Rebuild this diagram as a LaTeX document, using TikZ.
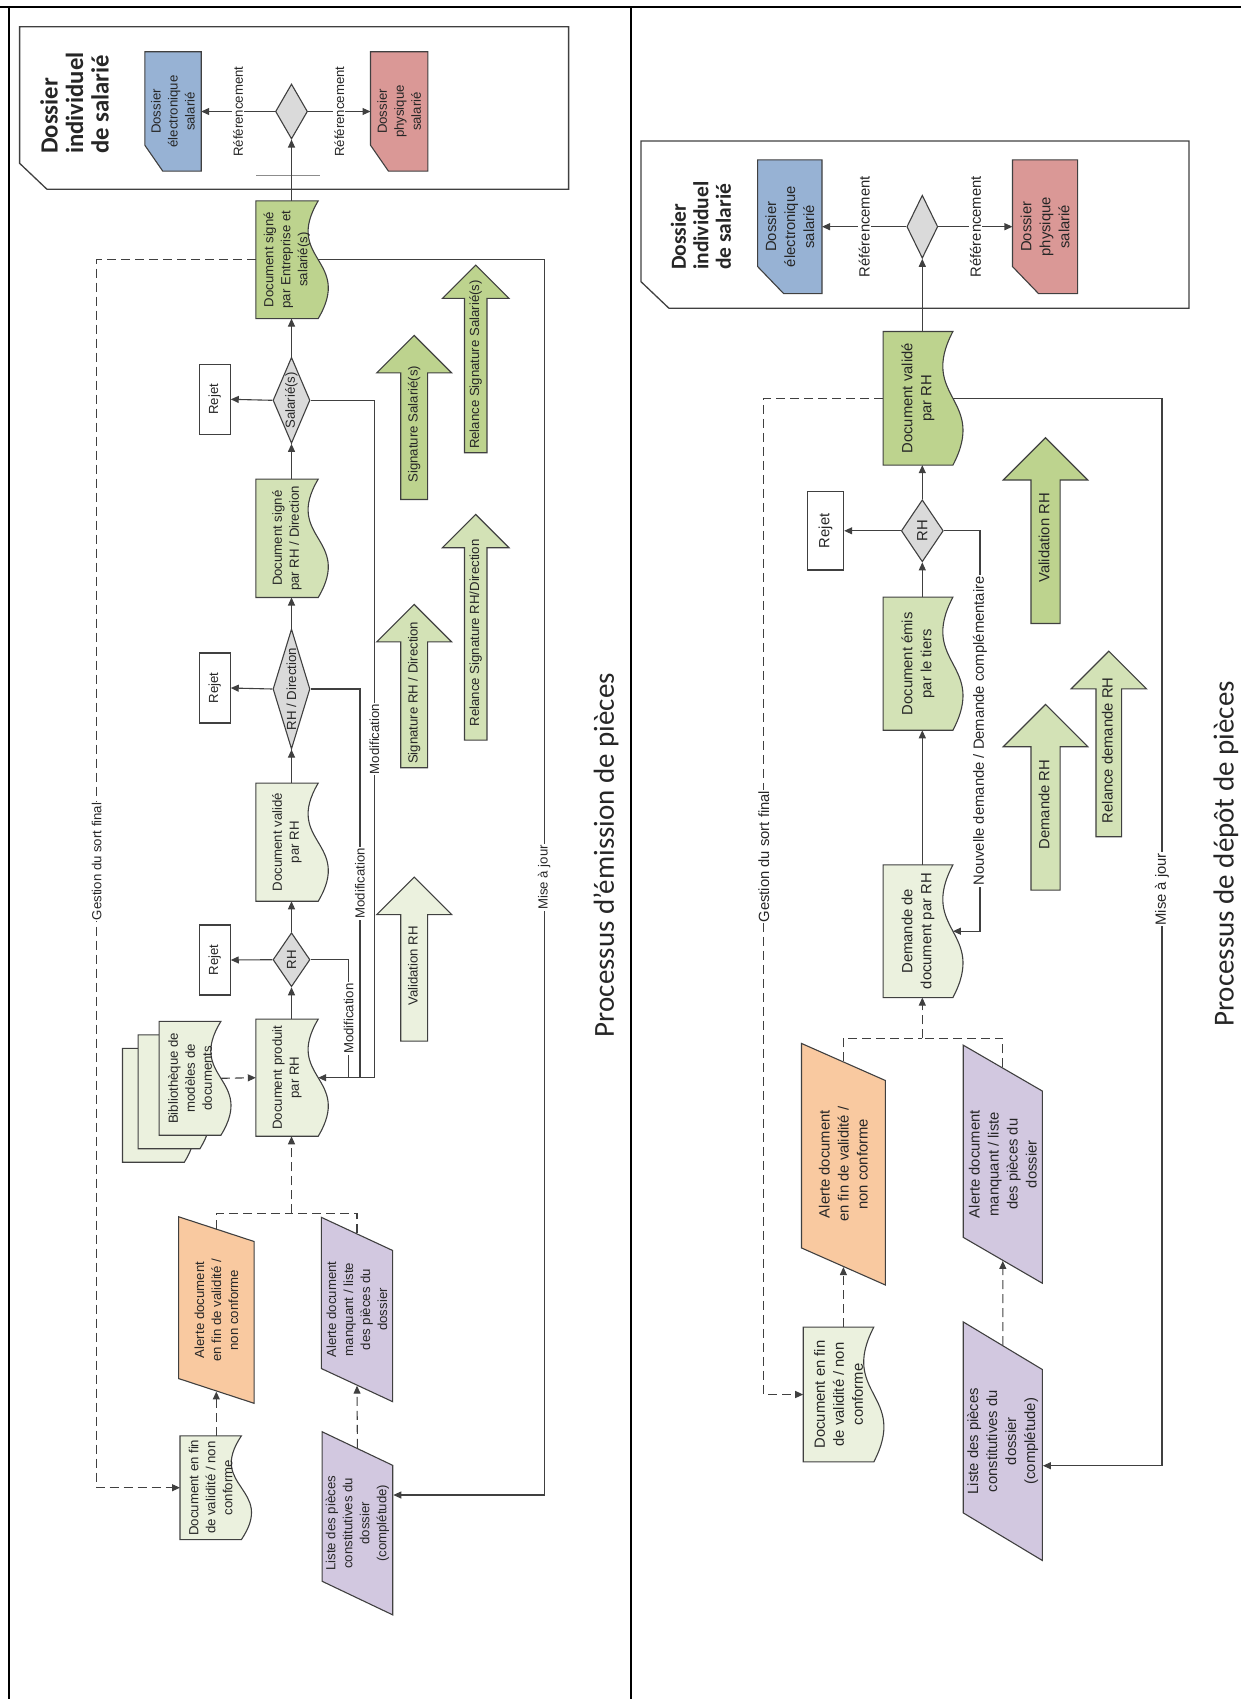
\documentclass[tikz,border=0pt]{standalone}
\usepackage{fontspec}
\setmainfont{Liberation Sans}
\newfontfamily\calibri{Carlito}
\usetikzlibrary{shapes.geometric,shapes.arrows,arrows.meta,calc,backgrounds}
\definecolor{paleg}{HTML}{EBF1DE}
\definecolor{lightg}{HTML}{D3E2B6}
\definecolor{midg}{HTML}{BDD38E}
\definecolor{peach}{HTML}{F9C9A0}
\definecolor{lilac}{HTML}{D2C8E0}
\definecolor{bluebox}{HTML}{97B2D4}
\definecolor{pinkbox}{HTML}{DA9896}
\definecolor{greydia}{HTML}{DADADA}
\definecolor{ink}{HTML}{404040}
% outline of a document node: flat sides, wavy side on the south
\newcommand{\wavedoc}[2]{\path[draw=ink, line width=1.1pt, fill=#2] (#1.north west) -- (#1.north east) -- (#1.south east)
    .. controls ($(#1.south)!35pt!(#1.north)$) and ($(#1.south)!-35pt!(#1.north)$) .. (#1.south west) -- cycle;}
% outline of a folder node: north west corner cut off
\newcommand{\cutfolder}[4]{\path[draw=ink, line width=1.1pt, fill=#2] ($(#1.north west)!#3!(#1.north east)$) -- (#1.north east)
    -- (#1.south east) -- (#1.south west) -- ($(#1.north west)!#4!(#1.south west)$) -- cycle;}
\begin{document}
\begin{tikzpicture}[x=1pt, y=-1pt,
    every node/.style={rotate=90, text=black!85, align=center},
    txtl/.style={font=\fontsize{13.2}{17}\selectfont},
    txtr/.style={font=\fontsize{14.8}{19}\selectfont},
    doc/.style={rectangle, inner sep=2pt},
    folder/.style={rectangle, inner sep=2pt},
    decision/.style={diamond, draw=ink, fill=greydia, line width=1.1pt, inner sep=0pt},
    reject/.style={rectangle, draw=ink, line width=1.1pt, inner sep=2pt},
    datain/.style={trapezium, trapezium stretches=true, draw=ink, line width=1.1pt, inner sep=2pt},
    bigarrow/.style={single arrow, single arrow tip angle=90, single arrow head indent=0pt,
        draw=ink, line width=1.1pt, anchor=tail, inner xsep=2pt, text height=9.5pt, text depth=2.7pt},
    lbl/.style={fill=white, inner sep=1pt},
    wire/.style={draw=ink, line width=1.1pt},
    conn/.style={wire, -{Triangle[length=8pt,width=7pt]}},
    dwire/.style={wire, dash pattern=on 9pt off 5pt},
    dconn/.style={conn, dash pattern=on 9pt off 5pt}]
    \useasboundingbox (0,0) rectangle (1241,1699);

    % Page frame and the two employee file boxes
        \draw[line width=2.2pt] (0,7.3) -- (1241,7.3);
        \draw[line width=2.2pt] (9,7.3) -- (9,1699);
        \draw[line width=2.2pt] (630.6,7.3) -- (630.6,1699);
        \draw[draw=ink, line width=1.3pt] (19.6,26.7) -- (568.6,26.7) -- (568.6,189.3) -- (47,189.3) -- (19.6,163.3) -- cycle;
        \draw[draw=ink, line width=1.3pt] (641,141) -- (1189,141) -- (1189,308.3) -- (669,308.3) -- (641,281.7) -- cycle;
        \draw[draw=ink!60, line width=0.6pt] (256.3,175) -- (319.6,175);

    % First, locate each of the nodes and name them
    % -- left half: emission
        \node[anchor=west, align=left, inner sep=0pt, font=\calibri\bfseries\fontsize{24.7}{25.5}\selectfont] (dossierL) at (74.5,154) {Dossier\\individuel\\de salarié};
        \node[folder, txtl, minimum width=119, minimum height=56] (elecL) at (173,111.5) {Dossier\\électronique\\salarié};
        \node[decision, minimum width=55, minimum height=32] (refL) at (291.5,111.5) {};
        \node[folder, txtl, minimum width=119, minimum height=57] (physL) at (399.2,111.5) {Dossier\\physique\\salarié};
        \node[doc, txtl, minimum width=117.3, minimum height=62] (signedall) at (287,259.7) {Document signé\\par Entreprise et\\salarié(s)};
        \node[decision, txtl, minimum width=86, minimum height=37] (salarie) at (291.5,400.3) {\makebox[0pt]{Salarié(s)}};
        \node[reject, txtl, minimum width=70, minimum height=31] (rejet1) at (214.7,399.3) {Rejet};
        \node[doc, txtl, minimum width=118, minimum height=62] (signedrh) at (287,538.3) {Document signé\\par RH / Direction};
        \node[decision, txtl, minimum width=120, minimum height=37] (rhdir) at (291.5,689) {\makebox[0pt]{RH / Direction}};
        \node[reject, txtl, minimum width=70, minimum height=31] (rejet2) at (214.7,688) {Rejet};
        \node[doc, txtl, minimum width=117.7, minimum height=62] (validL) at (287,842.2) {Document validé\\par RH};
        \node[decision, txtl, minimum width=54, minimum height=37] (rhL) at (291.5,959.7) {\makebox[0pt]{RH}};
        \node[reject, txtl, minimum width=70, minimum height=31] (rejet3) at (214.7,960) {Rejet};
        \node[doc, txtl, minimum width=116.7, minimum height=62] (produced) at (287,1077.7) {Document produit\\par RH};
        \node[doc, minimum width=113.5, minimum height=61.4] (bib3) at (153.4,1105.3) {};
        \node[doc, minimum width=113.5, minimum height=61.4] (bib2) at (169,1091.8) {};
        \node[doc, txtl, minimum width=113.5, minimum height=61.4] (bib) at (190,1078.3) {Bibliothèque de\\modèles de\\documents};
        \node[datain, fill=peach, txtl, trapezium left angle=68, trapezium right angle=112, minimum width=186.6, minimum height=75.5] (alertendL) at (216.3,1310) {Alerte document\\en fin de validité /\\non conforme};
        \node[datain, fill=lilac, txtl, trapezium left angle=66.5, trapezium right angle=113.5, minimum width=184.4, minimum height=71.3] (alertmissL) at (357,1309.5) {Alerte document\\manquant / liste\\des pièces du\\dossier};
        \node[datain, fill=lilac, txtl, trapezium left angle=67, trapezium right angle=113, minimum width=183.3, minimum height=70.7] (listL) at (357.4,1523.3) {Liste des pièces\\constitutives du\\dossier\\(complétude)};
        \node[doc, txtl, minimum width=103.3, minimum height=61] (endL) at (210.7,1487.7) {Document en fin\\de validité / non\\conforme};
        \node[bigarrow, fill=paleg, txtl, minimum height=164, inner ysep=6.8pt, single arrow head extend=24pt] (validrhL) at (414.2,1041.7) {\makebox[0pt]{Validation RH}};
        \node[bigarrow, fill=lightg, txtl, minimum height=163.3, inner ysep=6.8pt, single arrow head extend=24pt] (signrh) at (414.2,768.3) {\makebox[0pt]{Signature RH / Direction}};
        \node[bigarrow, fill=lightg, txtl, minimum height=225.7, inner ysep=4.6pt, single arrow head extend=22pt] (relancerh) at (475.7,740.7) {\makebox[0pt]{Relance Signature RH/Direction}};
        \node[bigarrow, fill=midg, txtl, minimum height=164, inner ysep=6.8pt, single arrow head extend=24pt] (signsal) at (414.2,500) {\makebox[0pt]{Signature Salarié(s)}};
        \node[bigarrow, fill=midg, txtl, minimum height=187.6, inner ysep=4.6pt, single arrow head extend=22pt] (relancesal) at (475.7,453.3) {\makebox[0pt]{Relance Signature Salarié(s)}};
        \node[font=\calibri\fontsize{29}{34}\selectfont] (titleL) at (606,855) {Processus d’émission de pièces};
        \coordinate (mod1) at (348.6,1077.7);
        \coordinate (mod2) at (360,1077.7);
        \coordinate (mod3) at (374.4,1077.7);
        \coordinate (joinL) at (291.5,1213.3);
        \coordinate (sortL) at (96.7,1487.7);
        \coordinate (majL) at (544.2,1495);

    % -- right half: deposit
        \node[anchor=west, align=left, inner sep=0pt, font=\calibri\bfseries\fontsize{21.5}{22.5}\selectfont] (dossierR) at (701,270) {Dossier\\individuel\\de salarié};
        \node[folder, txtr, minimum width=133.3, minimum height=64] (elecR) at (789.8,226.7) {Dossier\\électronique\\salarié};
        \node[decision, minimum width=63, minimum height=31] (refR) at (922.3,226.7) {};
        \node[folder, txtr, minimum width=133.3, minimum height=64.7] (physR) at (1045,226.7) {Dossier\\physique\\salarié};
        \node[doc, txtr, minimum width=133.3, minimum height=69.4] (validR) at (918,398.3) {Document validé\\par RH};
        \node[decision, txtr, minimum width=62, minimum height=42] (rhR) at (922.3,530.8) {\makebox[0pt]{RH}};
        \node[reject, txtr, minimum width=78.3, minimum height=36.3] (rejet4) at (825.5,530.8) {Rejet};
        \node[doc, txtr, minimum width=132.7, minimum height=69.4] (issued) at (918,663.7) {Document émis\\par le tiers};
        \node[doc, txtr, minimum width=132.3, minimum height=69.4] (request) at (918,931.2) {Demande de\\document par RH};
        \node[datain, fill=peach, txtr, trapezium left angle=63.5, trapezium right angle=116.5, minimum width=241.7, minimum height=83.8] (alertendR) at (843.4,1164.2) {Alerte document\\en fin de validité /\\non conforme};
        \node[datain, fill=lilac, txtr, trapezium left angle=64, trapezium right angle=116, minimum width=238.3, minimum height=79.1] (alertmissR) at (1002.8,1164.2) {Alerte document\\manquant / liste\\des pièces du\\dossier};
        \node[datain, fill=lilac, txtr, trapezium left angle=64, trapezium right angle=116, minimum width=239, minimum height=79.1] (listR) at (1002.8,1441.2) {Liste des pièces\\constitutives du\\dossier\\(complétude)};
        \node[doc, txtr, minimum width=134.4, minimum height=70.2] (endR) at (838.5,1394.5) {Document en fin\\de validité / non\\conforme};
        \node[bigarrow, fill=midg, txtr, minimum height=185.7, inner ysep=7.1pt, text height=10.7pt, text depth=3.1pt, single arrow head extend=27.7pt] (validrhR) at (1045.5,624) {\makebox[0pt]{Validation RH}};
        \node[bigarrow, fill=lightg, txtr, minimum height=185.7, inner ysep=7.1pt, text height=10.7pt, text depth=3.1pt, single arrow head extend=27.7pt] (demandrh) at (1045.5,890.7) {\makebox[0pt]{Demande RH}};
        \node[bigarrow, fill=lightg, txtr, minimum height=185.6, inner ysep=5.4pt, text height=10.7pt, text depth=3.1pt, single arrow head extend=24.8pt] (relancedem) at (1108.8,837.3) {\makebox[0pt]{Relance demande RH}};
        \node[font=\calibri\fontsize{29}{34}\selectfont] (titleR) at (1226,854) {Processus de dépôt de pièces};
        \coordinate (joinR) at (922.3,1038.3);
        \coordinate (sortR) at (763.7,1394.5);
        \coordinate (majR) at (1162,1465.7);
        \coordinate (newreq) at (980,931.2);

    % Outlines of the documents and folders, behind their texts
        \begin{pgfonlayer}{background}
            \cutfolder{elecL}{bluebox}{26pt}{18pt}
            \cutfolder{physL}{pinkbox}{26pt}{18pt}
            \cutfolder{elecR}{bluebox}{27pt}{26pt}
            \cutfolder{physR}{pinkbox}{27pt}{26pt}
            \wavedoc{signedall}{midg}
            \wavedoc{signedrh}{lightg}
            \wavedoc{validL}{paleg}
            \wavedoc{produced}{paleg}
            \wavedoc{bib3}{paleg}
            \wavedoc{bib2}{paleg}
            \wavedoc{bib}{paleg}
            \wavedoc{endL}{paleg}
            \wavedoc{validR}{midg}
            \wavedoc{issued}{lightg}
            \wavedoc{request}{paleg}
            \wavedoc{endR}{paleg}
        \end{pgfonlayer}

    % Now draw the lines:
        \draw[conn] (signedall.east -| refL.west) -- (refL.west);
        \draw[conn] (refL.north) -- (elecL.south) node[lbl, txtl, midway] {Référencement};
        \draw[conn] (refL.south) -- (physL.north) node[lbl, txtl, midway] {Référencement};
        \draw[conn] (salarie.east) -- (salarie.east |- signedall.west);
        \draw[conn] (salarie.north) -- (rejet1.south);
        \draw[conn] (signedrh.east -| salarie.west) -- (salarie.west);
        \draw[conn] (rhdir.east) -- (rhdir.east |- signedrh.west);
        \draw[conn] (rhdir.north) -- (rejet2.south);
        \draw[conn] (validL.east -| rhdir.west) -- (rhdir.west);
        \draw[conn] (rhL.east) -- (rhL.east |- validL.west);
        \draw[conn] (rhL.north) -- (rejet3.south);
        \draw[conn] (produced.east -| rhL.west) -- (rhL.west);
        \draw[wire] (rhL.south) -| (mod1) node[lbl, txtl, pos=0.75] {Modification};
        \draw[wire] (rhdir.south) -| (mod2) node[lbl, txtl, pos=0.75] {Modification};
        \draw[wire] (salarie.south) -| (mod3) node[lbl, txtl, pos=0.75] {Modification};
        \draw[conn] (mod3) -- (produced.south);
        \draw[dconn] (bib.south) -- (produced.north);
        \draw[dwire] (alertendL.east) |- (joinL);
        \draw[dwire] (alertmissL.east) |- (joinL);
        \draw[dconn] (joinL) -- (joinL |- produced.west);
        \draw[dconn] (alertendL.west |- endL.east) -- (alertendL.west);
        \draw[dconn] (listL.east) -- (alertmissL.west);
        \draw[dconn] (signedall.north) -| (sortL) node[lbl, txtl, pos=0.745] {Gestion du sort final} -- (endL.north);
        \draw[conn] (signedall.south) -| (majL) node[lbl, txtl, pos=0.75] {Mise à jour} -- (majL -| listL.south);

        \draw[conn] (validR.east -| refR.west) -- (refR.west);
        \draw[conn] (refR.north) -- (elecR.south) node[lbl, txtr, midway] {Référencement};
        \draw[conn] (refR.south) -- (physR.north) node[lbl, txtr, midway] {Référencement};
        \draw[conn] (rhR.east) -- (rhR.east |- validR.west);
        \draw[conn] (rhR.north) -- (rejet4.south);
        \draw[conn] (issued.east -| rhR.west) -- (rhR.west);
        \draw[conn] (request.east -| rhR.east) -- (issued.west -| rhR.east);
        \draw[conn] (rhR.south) -| (newreq) node[lbl, txtr, pos=0.75] {Nouvelle demande / Demande complémentaire} -- (request.south);
        \draw[dwire] (alertendR.east) |- (joinR);
        \draw[dwire] (alertmissR.east) |- (joinR);
        \draw[dconn] (joinR) -- (joinR |- request.west);
        \draw[dconn] (alertendR.west |- endR.east) -- (alertendR.west);
        \draw[dconn] (listR.east) -- (alertmissR.west);
        \draw[dconn] (validR.north) -| (sortR) node[lbl, txtr, pos=0.73] {Gestion du sort final} -- (endR.north);
        \draw[conn] (validR.south) -| (majR) node[lbl, txtr, pos=0.73] {Mise à jour} -- (majR -| listR.south);
    \end{tikzpicture}
\end{document}
